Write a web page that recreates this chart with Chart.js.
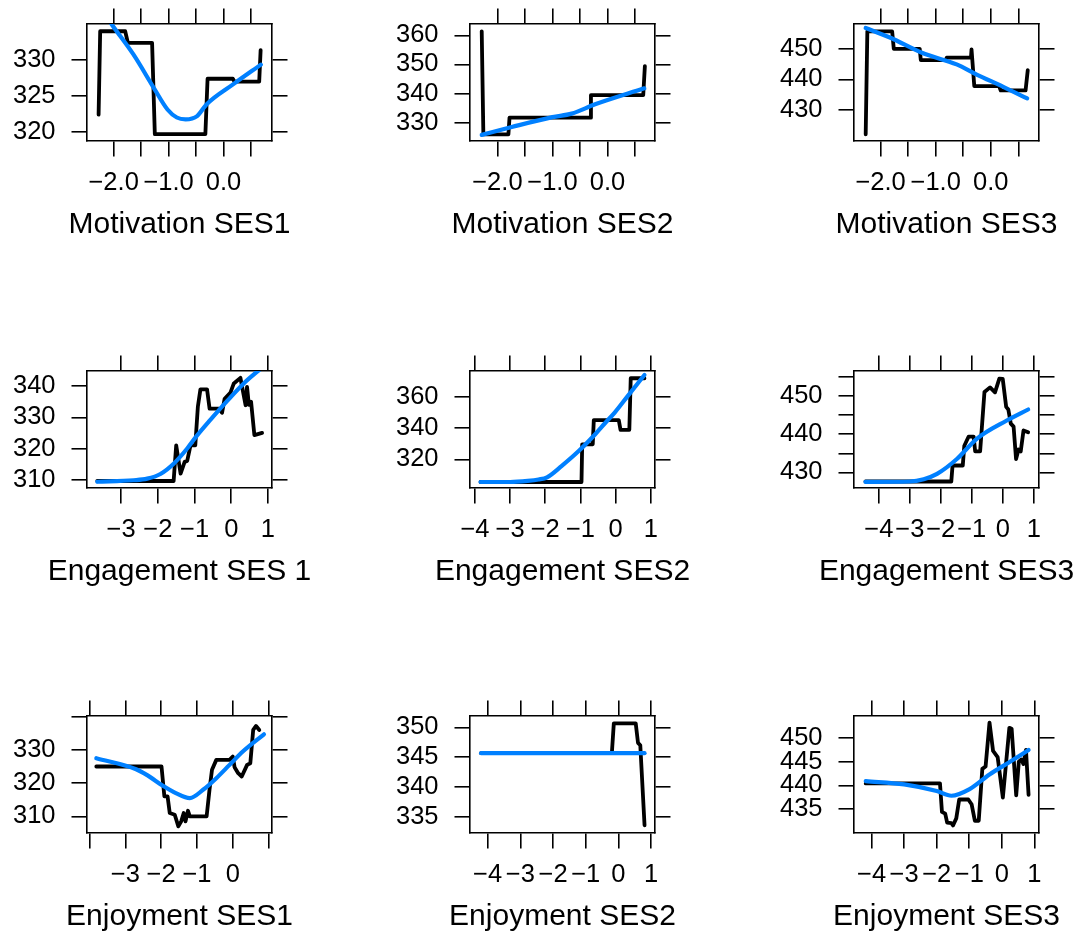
<!DOCTYPE html>
<html>
<head>
<meta charset="utf-8">
<title>Partial dependence by SES group</title>
<script src="https://cdn.jsdelivr.net/npm/chart.js@4.4.1/dist/chart.umd.min.js"></script>
<style>
  html, body { margin: 0; padding: 0; background: #ffffff; width: 1086px; height: 942px; overflow: hidden; }
  .panel { position: absolute; }
</style>
</head>
<body>
<script>
// ---------- tick values and labels ----------
const motXTicks = [-2, -1.5, -1, -0.5, 0, 0.5];
const motXLabels = ['\u22122.0', '', '\u22121.0', '', '0.0', ''];
const eng1XTicks = [-3, -2, -1, 0, 1];
const eng1XLabels = ['\u22123', '\u22122', '\u22121', '0', '1'];
const wideXTicks = [-4, -3, -2, -1, 0, 1];
const wideXLabels = ['\u22124', '\u22123', '\u22122', '\u22121', '0', '1'];
const enj1XLabels = ['', '\u22123', '\u22122', '\u22121', '0', ''];

const mot1YTicks = [320, 325, 330];
const mot2YTicks = [330, 340, 350, 360];
const mot3YTicks = [430, 440, 450];
const eng1YTicks = [310, 320, 330, 340];
const eng2YTicks = [320, 340, 360];
const eng3YTicks = [430, 435, 440, 445, 450, 455];
const eng3YLabels = ['430', '', '440', '', '450', ''];
const enj1YTicks = [310, 320, 330, 340];
const enj1YLabels = ['310', '320', '330', ''];
const enj2YTicks = [335, 340, 345, 350];
const enj3YTicks = [435, 440, 445, 450];

// ---------- partial dependence (black) and smoothed fit (blue) ----------
const mot1PdpX = [-2.274, -2.245, -1.79, -1.74, -1.30, -1.25, -0.33, -0.29, 0.17, 0.20, 0.65, 0.676];
const mot1PdpY = [322.4, 333.9, 333.9, 332.3, 332.3, 319.7, 319.7, 327.35, 327.35, 326.95, 326.95, 331.3];
const mot1FitX = [-2.27, -2.03, -1.64, -1.27, -1.02, -0.85, -0.69, -0.48, -0.31, 0.18, 0.68];
const mot1FitY = [337.5, 334.8, 330.7, 326.1, 323.1, 322.0, 321.75, 322.2, 323.8, 326.6, 329.3];

const mot2PdpX = [-2.285, -2.255, -1.80, -1.78, -0.316, -0.30, 0.65, 0.68];
const mot2PdpY = [361.4, 326.0, 326.0, 331.7, 331.7, 339.45, 339.45, 349.4];
const mot2FitX = [-2.285, -1.74, -1.0, -0.65, -0.225, 0.67];
const mot2FitY = [325.8, 328.5, 331.9, 333.1, 336.3, 341.8];

const mot3PdpX = [-2.27, -2.24, -1.79, -1.76, -1.29, -1.27, -0.82, -0.80, -0.36, -0.35, -0.30, 0.15, 0.18, 0.63, 0.67];
const mot3PdpY = [422.1, 455.7, 455.7, 450.0, 450.0, 446.3, 446.3, 447.1, 447.1, 449.8, 437.8, 437.8, 436.4, 436.4, 443.0];
const mot3FitX = [-2.27, -1.82, -1.25, -0.62, -0.256, 0.226, 0.66];
const mot3FitY = [456.8, 453.6, 448.7, 444.9, 441.6, 437.6, 433.8];

const eng1PdpX = [-3.65, -1.57, -1.50, -1.38, -1.27, -1.20, -1.11, -0.98, -0.91, -0.84, -0.66, -0.59, -0.34, -0.25, -0.18, -0.02, 0.07, 0.25, 0.39, 0.43, 0.48, 0.54, 0.63, 0.84];
const eng1PdpY = [309.55, 309.55, 321.0, 311.9, 315.7, 316.0, 321.0, 321.0, 333.4, 339.0, 339.0, 332.8, 332.8, 331.5, 336.0, 338.0, 340.9, 342.7, 333.9, 339.8, 334.0, 335.0, 324.3, 325.0];
const eng1FitX = [-3.65, -2.66, -2.29, -1.93, -1.57, -1.20, -0.93, -0.57, -0.11, 0.34, 0.84];
const eng1FitY = [309.3, 309.8, 310.3, 311.8, 315.1, 320.0, 324.2, 329.2, 335.3, 340.9, 346.0];

const eng2PdpX = [-3.84, -0.97, -0.95, -0.65, -0.62, 0.09, 0.14, 0.39, 0.43, 0.82];
const eng2PdpY = [305.6, 305.6, 329.6, 329.6, 345.0, 345.0, 338.8, 338.8, 371.6, 371.6];
const eng2FitX = [-3.84, -3.0, -2.5, -2.19, -1.95, -1.53, -1.05, -0.58, -0.31, -0.02, 0.36, 0.82];
const eng2FitY = [305.6, 305.6, 306.3, 307.2, 308.6, 315.9, 325.3, 336.0, 342.8, 349.9, 360.7, 373.7];

const eng3PdpX = [-4.43, -1.66, -1.62, -1.29, -1.24, -1.10, -0.94, -0.89, -0.73, -0.59, -0.41, -0.25, -0.11, 0.0, 0.11, 0.18, 0.26, 0.35, 0.43, 0.51, 0.58, 0.67, 0.82];
const eng3PdpY = [427.6, 427.6, 431.8, 431.8, 437.0, 439.4, 439.4, 435.5, 435.5, 451.1, 452.3, 451.0, 454.6, 454.5, 447.2, 446.5, 442.8, 442.0, 433.5, 436.0, 435.5, 441.0, 440.5];
const eng3FitX = [-4.43, -3.0, -2.55, -2.12, -1.48, -0.84, 0.13, 0.82];
const eng3FitY = [427.5, 427.6, 428.2, 429.6, 433.5, 438.8, 443.6, 446.5];

const enj1PdpX = [-3.81, -1.99, -1.91, -1.82, -1.76, -1.62, -1.52, -1.44, -1.37, -1.32, -1.25, -1.20, -0.73, -0.65, -0.58, -0.46, -0.09, 0.0, 0.05, 0.15, 0.25, 0.40, 0.49, 0.57, 0.65, 0.74];
const enj1PdpY = [325.0, 325.0, 316.0, 316.0, 311.0, 310.5, 307.0, 308.5, 311.0, 308.5, 311.7, 310.0, 310.0, 318.0, 324.0, 327.0, 327.0, 328.0, 324.8, 323.0, 322.0, 325.5, 326.0, 336.0, 337.2, 336.0];
const enj1FitX = [-3.81, -2.70, -2.39, -1.95, -1.59, -1.20, -0.83, -0.46, -0.09, 0.28, 0.87];
const enj1FitY = [327.5, 324.2, 322.4, 319.2, 317.0, 315.5, 318.0, 321.5, 325.5, 329.5, 334.7];

const enj2PdpX = [-4.2, -0.20, -0.14, 0.53, 0.60, 0.67, 0.80];
const enj2PdpY = [345.67, 345.67, 350.67, 350.67, 347.4, 347.0, 333.6];
const enj2FitX = [-4.2, 0.80];
const enj2FitY = [345.67, 345.67];

const enj3PdpX = [-4.18, -1.90, -1.84, -1.74, -1.68, -1.55, -1.50, -1.40, -1.31, -1.03, -0.93, -0.83, -0.71, -0.60, -0.50, -0.38, -0.27, -0.13, 0.03, 0.23, 0.30, 0.44, 0.52, 0.60, 0.66, 0.74, 0.82];
const enj3PdpY = [440.4, 440.4, 434.4, 434.0, 432.1, 432.0, 431.5, 433.0, 437.0, 437.0, 436.0, 432.5, 432.5, 443.5, 444.0, 453.3, 447.3, 446.0, 437.4, 452.2, 452.0, 437.9, 445.0, 445.5, 444.5, 447.5, 438.0];
const enj3FitX = [-4.18, -3.0, -2.0, -1.55, -0.99, -0.38, 0.25, 0.82];
const enj3FitY = [440.9, 440.2, 438.8, 437.8, 439.2, 442.3, 445.0, 447.5];

// ---------- page layout ----------
const FONT = '"Liberation Sans", Arial, Helvetica, sans-serif';
const COL_LEFT = [87, 470, 854];
const ROW_TOP = [24, 371, 716];
const BOX_W = 185, BOX_H = 117;
const SIDE = 90;          // width of left and right axis strips
const TOP_AXIS = 20;      // height of top axis strip
const X_AXIS_H = 60;      // height of bottom axis strip (ticks + labels)
const TITLE_SIZE = 30, TITLE_PAD = { top: 5.5, bottom: 1.5 };
const TITLE_H = TITLE_SIZE * 1.2 + TITLE_PAD.top + TITLE_PAD.bottom;
const TICK_LEN = 15.5;
const TICK_FONT = 25.5;
const FRAME_W = 1.6;

const panels = [
  { title: 'Motivation SES1', col: 0, row: 0, x: [-2.485, 0.883], y: [318.76, 334.9],
    xTicks: motXTicks, xLabels: motXLabels, yTicks: mot1YTicks, yLabels: null,
    pdp: [mot1PdpX, mot1PdpY], fit: [mot1FitX, mot1FitY] },
  { title: 'Motivation SES2', col: 1, row: 0, x: [-2.498, 0.864], y: [323.7, 363.9],
    xTicks: motXTicks, xLabels: motXLabels, yTicks: mot2YTicks, yLabels: null,
    pdp: [mot2PdpX, mot2PdpY], fit: [mot2FitX, mot2FitY] },
  { title: 'Motivation SES3', col: 2, row: 0, x: [-2.482, 0.874], y: [419.9, 458.1],
    xTicks: motXTicks, xLabels: motXLabels, yTicks: mot3YTicks, yLabels: null,
    pdp: [mot3PdpX, mot3PdpY], fit: [mot3FitX, mot3FitY] },
  { title: 'Engagement SES 1', col: 0, row: 1, x: [-3.93, 1.11], y: [307.3, 344.9],
    xTicks: eng1XTicks, xLabels: eng1XLabels, yTicks: eng1YTicks, yLabels: null,
    pdp: [eng1PdpX, eng1PdpY], fit: [eng1FitX, eng1FitY] },
  { title: 'Engagement SES2', col: 1, row: 1, x: [-4.14, 1.12], y: [301.8, 376.2],
    xTicks: wideXTicks, xLabels: wideXLabels, yTicks: eng2YTicks, yLabels: null,
    pdp: [eng2PdpX, eng2PdpY], fit: [eng2FitX, eng2FitY] },
  { title: 'Engagement SES3', col: 2, row: 1, x: [-4.80, 1.17], y: [425.9, 456.6],
    xTicks: wideXTicks, xLabels: wideXLabels, yTicks: eng3YTicks, yLabels: eng3YLabels,
    pdp: [eng3PdpX, eng3PdpY], fit: [eng3FitX, eng3FitY] },
  { title: 'Enjoyment SES1', col: 0, row: 2, x: [-4.07, 1.095], y: [305.0, 340.2],
    xTicks: wideXTicks, xLabels: enj1XLabels, yTicks: enj1YTicks, yLabels: enj1YLabels,
    pdp: [enj1PdpX, enj1PdpY], fit: [enj1FitX, enj1FitY] },
  { title: 'Enjoyment SES2', col: 1, row: 2, x: [-4.54, 1.12], y: [332.3, 351.9],
    xTicks: wideXTicks, xLabels: wideXLabels, yTicks: enj2YTicks, yLabels: null,
    pdp: [enj2PdpX, enj2PdpY], fit: [enj2FitX, enj2FitY] },
  { title: 'Enjoyment SES3', col: 2, row: 2, x: [-4.54, 1.14], y: [429.9, 454.7],
    xTicks: wideXTicks, xLabels: wideXLabels, yTicks: enj3YTicks, yLabels: null,
    pdp: [enj3PdpX, enj3PdpY], fit: [enj3FitX, enj3FitY] }
];

function toPoints(xs, ys) {
  return xs.map((x, i) => ({ x: x, y: ys[i] }));
}

// One framed axis: outward tick marks, optional labels, fixed strip size
function axis(position, range, ticks, labels, showLabels, size) {
  const horizontal = position === 'top' || position === 'bottom';
  return {
    type: 'linear',
    axis: horizontal ? 'x' : 'y',
    position: position,
    min: range[0],
    max: range[1],
    afterBuildTicks: (scale) => { scale.ticks = ticks.map(v => ({ value: v })); },
    afterFit: (scale) => {
      if (horizontal) scale.height = size; else scale.width = size;
      scale.paddingLeft = scale.paddingRight = scale.paddingTop = scale.paddingBottom = 0;
    },
    grid: { drawOnChartArea: false, drawTicks: true, tickLength: TICK_LEN, color: '#000000', lineWidth: FRAME_W },
    border: { display: true, color: '#000000', width: FRAME_W },
    ticks: {
      display: showLabels,
      autoSkip: false,
      maxRotation: 0,
      minRotation: 0,
      padding: horizontal ? 10.8 : 16,
      color: '#000000',
      font: { family: FONT, size: TICK_FONT },
      callback: (value, index) => (labels ? labels[index] : String(ticks[index]))
    }
  };
}

function drawPanel(p) {
  const w = BOX_W + 2 * SIDE;
  const h = TOP_AXIS + BOX_H + X_AXIS_H + TITLE_H;
  const host = document.createElement('div');
  host.className = 'panel';
  host.style.left = (COL_LEFT[p.col] - SIDE) + 'px';
  host.style.top = (ROW_TOP[p.row] - TOP_AXIS) + 'px';
  host.style.width = w + 'px';
  host.style.height = h + 'px';
  const canvas = document.createElement('canvas');
  canvas.width = w;
  canvas.height = h;
  canvas.style.width = w + 'px';
  canvas.style.height = h + 'px';
  host.appendChild(canvas);
  document.body.appendChild(host);

  new Chart(canvas, {
    type: 'line',
    data: {
      datasets: [
        {
          label: 'smooth',
          data: toPoints(p.fit[0], p.fit[1]),
          borderColor: '#0080ff',
          borderWidth: 4.2,
          cubicInterpolationMode: 'monotone',
          borderCapStyle: 'round',
          borderJoinStyle: 'round',
          pointRadius: 0,
          fill: false,
          clip: 0,
          order: 0
        },
        {
          label: 'partial dependence',
          data: toPoints(p.pdp[0], p.pdp[1]),
          borderColor: '#000000',
          borderWidth: 3.8,
          tension: 0,
          borderCapStyle: 'round',
          borderJoinStyle: 'round',
          pointRadius: 0,
          fill: false,
          clip: 0,
          order: 1
        }
      ]
    },
    options: {
      responsive: false,
      animation: false,
      events: [],
      layout: { padding: 0, autoPadding: false },
      plugins: {
        legend: { display: false },
        tooltip: { enabled: false },
        title: {
          display: true,
          text: p.title,
          position: 'bottom',
          color: '#000000',
          font: { family: FONT, size: TITLE_SIZE, weight: 'normal' },
          padding: TITLE_PAD
        }
      },
      scales: {
        x: axis('bottom', p.x, p.xTicks, p.xLabels, true, X_AXIS_H),
        x2: axis('top', p.x, p.xTicks, null, false, TOP_AXIS),
        y: axis('left', p.y, p.yTicks, p.yLabels, true, SIDE),
        y2: axis('right', p.y, p.yTicks, null, false, SIDE)
      }
    }
  });
}

panels.forEach(drawPanel);
</script>
</body>
</html>
